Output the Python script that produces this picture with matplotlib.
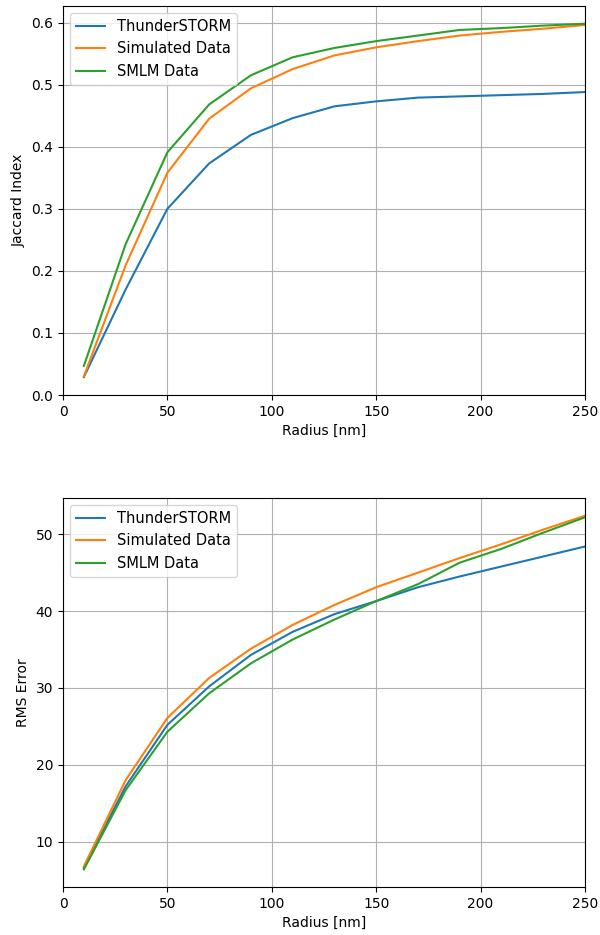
import numpy as np
import matplotlib
matplotlib.use("Agg")
import matplotlib.pyplot as plt

# rayons testés (nm)
radius = [10, 30, 50, 70, 90, 110, 130, 150, 170, 190, 210, 230, 250]

# Jaccard index
jac_thunderstorm = [0.029, 0.170, 0.300, 0.373, 0.419, 0.446, 0.465, 0.473, 0.479, 0.481, 0.483, 0.485, 0.488]
jac_simulated = [0.030, 0.209, 0.358, 0.445, 0.494, 0.525, 0.547, 0.560, 0.570, 0.579, 0.585, 0.590, 0.596]
jac_smlm = [0.047, 0.243, 0.391, 0.468, 0.515, 0.544, 0.559, 0.570, 0.579, 0.588, 0.591, 0.595, 0.598]

# RMS error
rms_thunderstorm = [6.6, 17.2, 25.2, 30.2, 34.3, 37.3, 39.6, 41.3, 43.1, 44.5, 45.8, 47.1, 48.4]
rms_simulated = [6.8, 18.0, 26.1, 31.3, 35.1, 38.2, 40.8, 43.1, 45.0, 46.9, 48.7, 50.6, 52.4]
rms_smlm = [6.4, 16.7, 24.3, 29.3, 33.2, 36.3, 38.9, 41.3, 43.5, 46.3, 48.1, 50.2, 52.2]

labels = ["ThunderSTORM", "Simulated Data", "SMLM Data"]

fig = plt.figure(figsize=(6, 9.35), dpi=100)
ax1 = fig.add_axes([0.105, 0.5775, 0.87, 0.416])
ax2 = fig.add_axes([0.105, 0.0513, 0.87, 0.416])

for y, lab in zip([jac_thunderstorm, jac_simulated, jac_smlm], labels):
    ax1.plot(radius, y, label=lab)
ax1.set_xlim(0, 250)
ax1.set_ylim(bottom=0)
ax1.set_xlabel("Radius [nm]")
ax1.set_ylabel("Jaccard Index")
ax1.grid(True)
ax1.legend(loc="upper left", fontsize=10.5)

for y, lab in zip([rms_thunderstorm, rms_simulated, rms_smlm], labels):
    ax2.plot(radius, y, label=lab)
ax2.set_xlim(0, 250)
ax2.set_xlabel("Radius [nm]")
ax2.set_ylabel("RMS Error")
ax2.grid(True)
ax2.legend(loc="upper left", fontsize=10.5)

fig.savefig("out.png", dpi=100)
